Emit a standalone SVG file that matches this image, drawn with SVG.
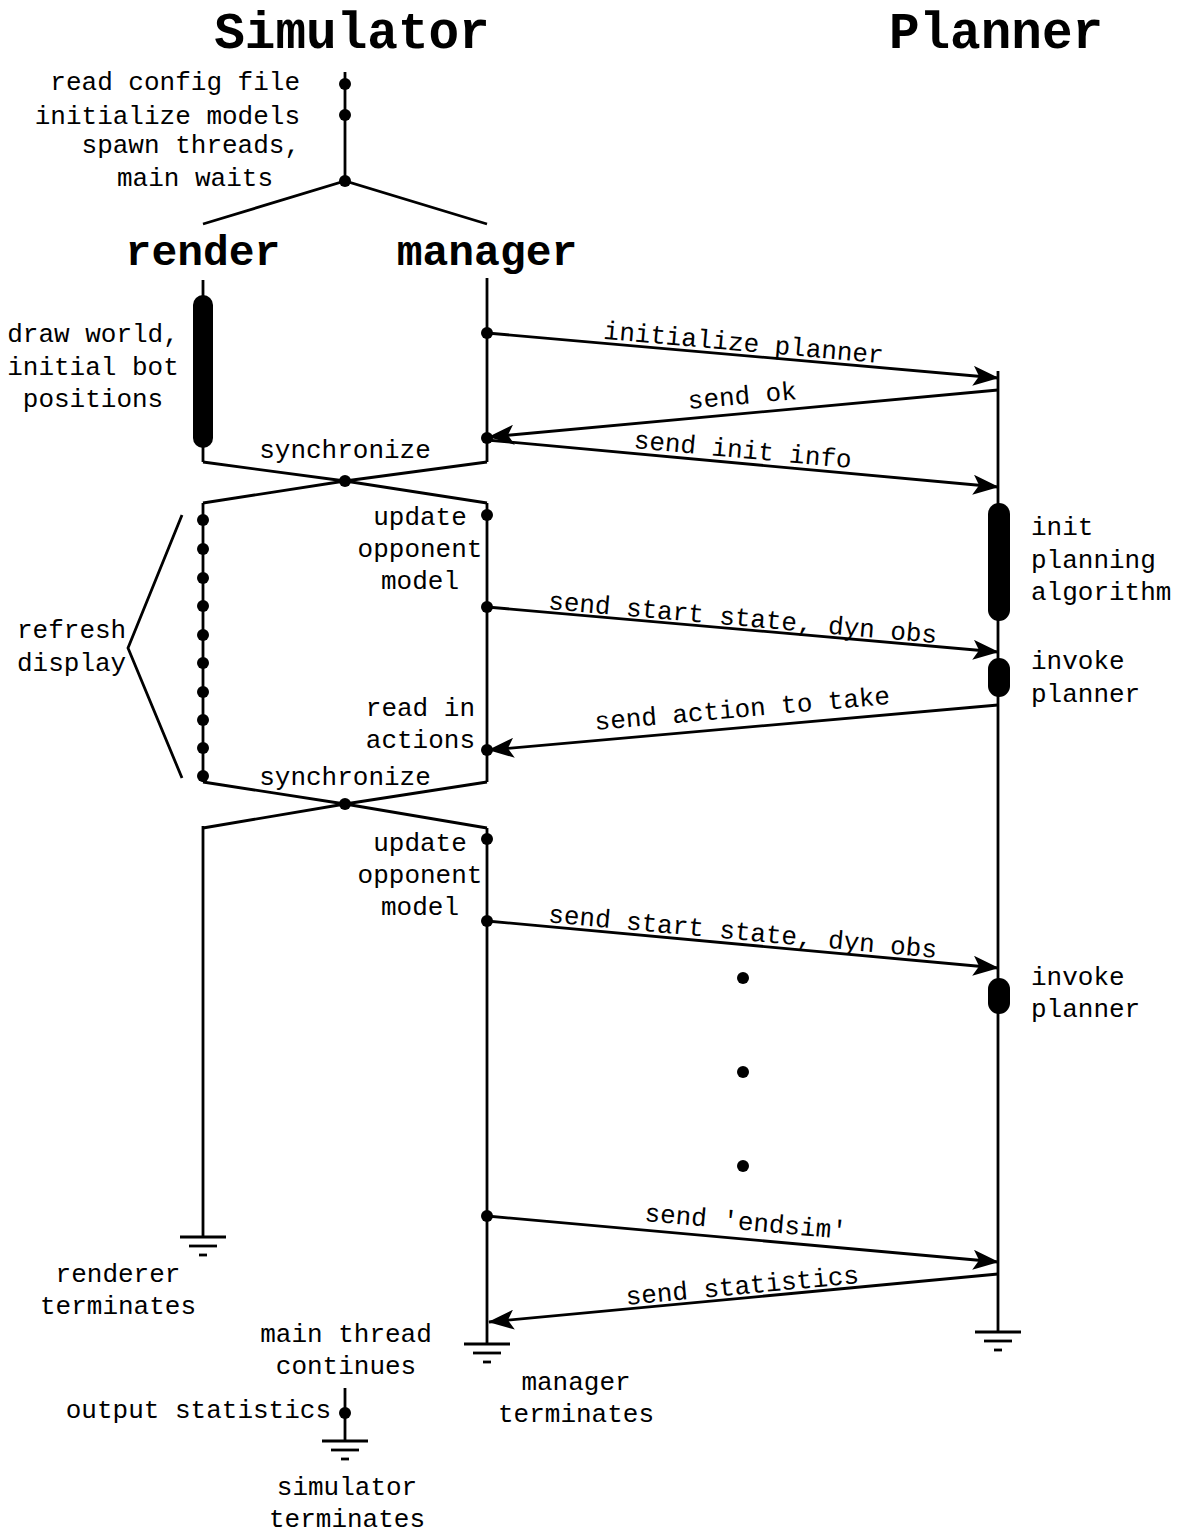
<svg xmlns="http://www.w3.org/2000/svg" width="1186" height="1534" viewBox="0 0 1186 1534">
  <style>
    .ln { stroke: #000; stroke-width: 2.8; fill: none; stroke-linecap: butt; }
    .dot { fill: #000; }
    .bar { fill: #000; }
    .t { font-family: "Liberation Mono", "DejaVu Sans Mono", monospace; font-size: 26px; fill: #000; }
    .ttl { font-family: "Liberation Mono", "DejaVu Sans Mono", monospace; font-weight: bold; fill: #000; }
    .e { text-anchor: end; }
    .m { text-anchor: middle; }
  </style>
  <defs>
    <marker id="arrow" markerUnits="userSpaceOnUse" viewBox="0 0 26 20" refX="25" refY="10" markerWidth="26" markerHeight="20" orient="auto">
      <path d="M0,0 L26,10 L0,20 L6,10 Z" fill="#000"/>
    </marker>
    <g id="ground">
      <line class="ln" x1="-23" y1="0" x2="23" y2="0"/>
      <line class="ln" x1="-14" y1="9" x2="14" y2="9"/>
      <line class="ln" x1="-4" y1="18" x2="4" y2="18"/>
    </g>
  </defs>

  <rect width="1186" height="1534" fill="#fff"/>

  <!-- headings -->
  <g id="simulator-title">
    <text class="ttl m" x="352" y="48" font-size="51">Simulator</text>
  </g>
  <g id="planner-title">
    <text class="ttl m" x="996" y="48" font-size="51">Planner</text>
  </g>

  <!-- main thread: setup then fork -->
  <g id="main-thread">
    <line class="ln" x1="345" y1="72" x2="345" y2="181"/>
    <circle class="dot" cx="345" cy="84" r="6"/>
    <circle class="dot" cx="345" cy="115" r="6"/>
    <circle class="dot" cx="345" cy="181" r="6"/>
    <polyline class="ln" points="203,224 345,181 487,224"/>
    <text class="t e" x="300" y="90">read config file</text>
    <text class="t e" x="300" y="124">initialize models</text>
    <text class="t e" x="300" y="153">spawn threads,</text>
    <text class="t e" x="273" y="186">main waits</text>
  </g>

  <!-- render thread -->
  <g id="render-thread">
    <text class="ttl m" x="203" y="265" font-size="43">render</text>
    <line class="ln" x1="203" y1="280" x2="203" y2="462"/>
    <rect class="bar" x="193" y="295" width="20" height="153" rx="10"/>
    <text class="t m" x="93" y="342">draw world,</text>
    <text class="t m" x="93" y="375">initial bot</text>
    <text class="t m" x="93" y="407">positions</text>
    <line class="ln" x1="203" y1="503" x2="203" y2="782"/>
    <circle class="dot" cx="203" cy="520" r="6"/>
    <circle class="dot" cx="203" cy="549" r="6"/>
    <circle class="dot" cx="203" cy="578" r="6"/>
    <circle class="dot" cx="203" cy="606" r="6"/>
    <circle class="dot" cx="203" cy="635" r="6"/>
    <circle class="dot" cx="203" cy="663" r="6"/>
    <circle class="dot" cx="203" cy="692" r="6"/>
    <circle class="dot" cx="203" cy="720" r="6"/>
    <circle class="dot" cx="203" cy="748" r="6"/>
    <circle class="dot" cx="203" cy="776" r="6"/>
    <polyline class="ln" points="182,515 128,648 182,778"/>
    <text class="t" x="17" y="638">refresh</text>
    <text class="t" x="17" y="671">display</text>
    <line class="ln" x1="203" y1="826" x2="203" y2="1237"/>
    <use href="#ground" x="203" y="1237"/>
    <text class="t m" x="118" y="1282">renderer</text>
    <text class="t m" x="118" y="1314">terminates</text>
  </g>

  <!-- manager thread -->
  <g id="manager-thread">
    <text class="ttl m" x="487" y="265" font-size="43">manager</text>
    <line class="ln" x1="487" y1="278" x2="487" y2="462"/>
    <circle class="dot" cx="487" cy="333" r="6"/>
    <circle class="dot" cx="487" cy="438" r="6"/>
    <line class="ln" x1="487" y1="503" x2="487" y2="782"/>
    <circle class="dot" cx="487" cy="515" r="6"/>
    <circle class="dot" cx="487" cy="607" r="6"/>
    <circle class="dot" cx="487" cy="750" r="6"/>
    <text class="t m" x="420" y="525">update</text>
    <text class="t m" x="420" y="557">opponent</text>
    <text class="t m" x="420" y="589">model</text>
    <text class="t e" x="475" y="716">read in</text>
    <text class="t e" x="475" y="748">actions</text>
    <line class="ln" x1="487" y1="828" x2="487" y2="1344"/>
    <circle class="dot" cx="487" cy="839" r="6"/>
    <circle class="dot" cx="487" cy="921" r="6"/>
    <circle class="dot" cx="487" cy="1216" r="6"/>
    <text class="t m" x="420" y="851">update</text>
    <text class="t m" x="420" y="883">opponent</text>
    <text class="t m" x="420" y="915">model</text>
    <use href="#ground" x="487" y="1344"/>
    <text class="t m" x="576" y="1390">manager</text>
    <text class="t m" x="576" y="1422">terminates</text>
  </g>

  <!-- synchronization points between render and manager -->
  <g id="sync-1">
    <polyline class="ln" points="203,462 345,481 487,503"/>
    <polyline class="ln" points="487,462 345,481 203,503"/>
    <circle class="dot" cx="345" cy="481" r="6"/>
    <text class="t m" x="345" y="458">synchronize</text>
  </g>
  <g id="sync-2">
    <polyline class="ln" points="203,782 345,804 487,828"/>
    <polyline class="ln" points="487,782 345,804 203,828"/>
    <circle class="dot" cx="345" cy="804" r="6"/>
    <text class="t m" x="345" y="785">synchronize</text>
  </g>

  <!-- main thread resumes after join -->
  <g id="main-thread-end">
    <text class="t m" x="346" y="1342">main thread</text>
    <text class="t m" x="346" y="1374">continues</text>
    <line class="ln" x1="345" y1="1388" x2="345" y2="1441"/>
    <circle class="dot" cx="345" cy="1413" r="6"/>
    <text class="t e" x="331" y="1418">output statistics</text>
    <use href="#ground" x="345" y="1441"/>
    <text class="t m" x="347" y="1495">simulator</text>
    <text class="t m" x="347" y="1527">terminates</text>
  </g>

  <!-- planner lifeline -->
  <g id="planner-lifeline">
    <line class="ln" x1="998" y1="371" x2="998" y2="1332"/>
    <rect class="bar" x="988" y="503" width="22" height="118" rx="11"/>
    <text class="t" x="1031" y="535">init</text>
    <text class="t" x="1031" y="568">planning</text>
    <text class="t" x="1031" y="600">algorithm</text>
    <rect class="bar" x="988" y="658" width="22" height="39" rx="11"/>
    <text class="t" x="1031" y="669">invoke</text>
    <text class="t" x="1031" y="702">planner</text>
    <rect class="bar" x="988" y="978" width="22" height="36" rx="11"/>
    <text class="t" x="1031" y="985">invoke</text>
    <text class="t" x="1031" y="1017">planner</text>
    <use href="#ground" x="998" y="1332"/>
  </g>

  <!-- messages between manager and planner -->
  <g id="messages">
    <line class="ln" x1="487" y1="333" x2="998" y2="378" marker-end="url(#arrow)"/>
    <text class="t m" x="743" y="351" transform="rotate(5.03 743 351)">initialize planner</text>

    <line class="ln" x1="998" y1="390" x2="489" y2="437" marker-end="url(#arrow)"/>
    <text class="t m" x="743" y="404" transform="rotate(-5.26 743 404)">send ok</text>

    <line class="ln" x1="487" y1="440" x2="998" y2="487" marker-end="url(#arrow)"/>
    <text class="t m" x="742" y="458" transform="rotate(5.25 742 458)">send init info</text>

    <line class="ln" x1="487" y1="607" x2="998" y2="652" marker-end="url(#arrow)"/>
    <text class="t m" x="742" y="626" transform="rotate(5.03 742 626)">send start state, dyn obs</text>

    <line class="ln" x1="998" y1="705" x2="489" y2="750" marker-end="url(#arrow)"/>
    <text class="t m" x="743" y="717" transform="rotate(-5.03 743 717)">send action to take</text>

    <line class="ln" x1="487" y1="921" x2="998" y2="968" marker-end="url(#arrow)"/>
    <text class="t m" x="742" y="940" transform="rotate(5.25 742 940)">send start state, dyn obs</text>

    <circle class="dot" cx="743" cy="978" r="6"/>
    <circle class="dot" cx="743" cy="1072" r="6"/>
    <circle class="dot" cx="743" cy="1166" r="6"/>

    <line class="ln" x1="487" y1="1216" x2="998" y2="1262" marker-end="url(#arrow)"/>
    <text class="t m" x="745" y="1230" transform="rotate(5.14 745 1230)">send 'endsim'</text>

    <line class="ln" x1="998" y1="1274" x2="489" y2="1322" marker-end="url(#arrow)"/>
    <text class="t m" x="743" y="1294" transform="rotate(-5.37 743 1294)">send statistics</text>
  </g>
</svg>
